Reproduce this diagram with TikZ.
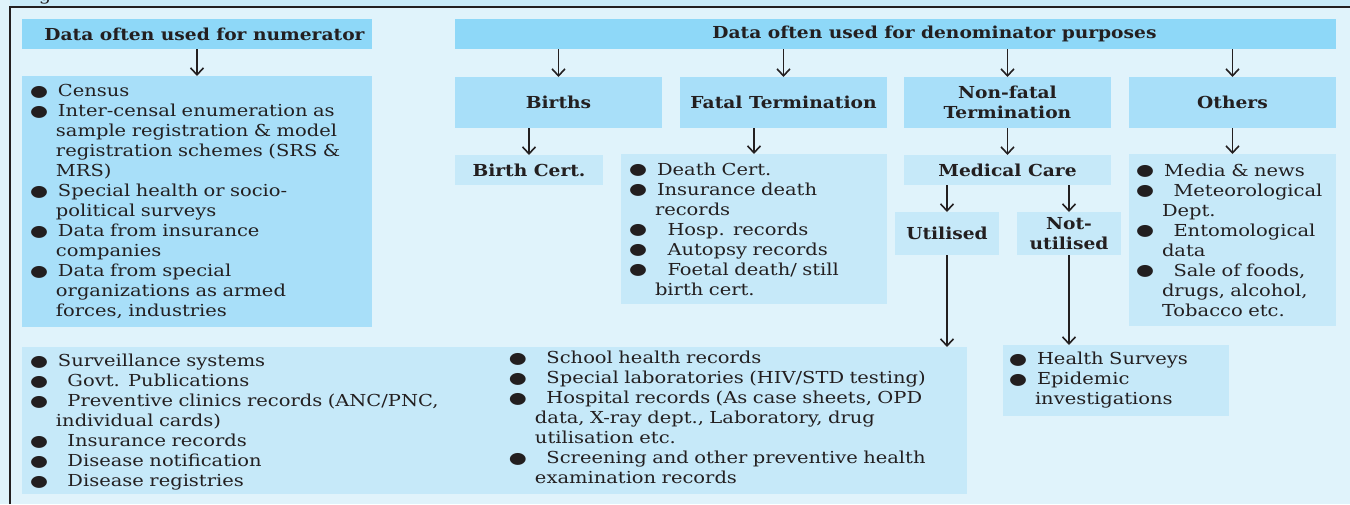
\documentclass[tikz,border=0pt]{standalone}
\usepackage{fontspec}
\usepackage{graphicx}
\setmainfont{DejaVu Serif}[FakeStretch=1.18]
\newfontfamily\hdrf{DejaVu Serif}[FakeStretch=1.13]
\newfontfamily\symfont{DejaVu Sans}
\usetikzlibrary{arrows.meta}

\definecolor{inkc}{HTML}{231F20}
\definecolor{pagebg}{HTML}{E0F3FB}
\definecolor{stripc}{HTML}{C8EAF8}
\definecolor{hdrc}{HTML}{8ED8F8}
\definecolor{midc}{HTML}{A8DFF9}
\definecolor{lightc}{HTML}{C6E9F9}

\setlength\parindent{0pt}
% list bullet and line starts
\newcommand\bul{\raisebox{0.05ex}{\scalebox{1.25}[0.95]{\symfont ●}}}
\newcommand\itm[1][0pt]{\makebox[28pt][l]{\bul}\hspace*{#1}}
\newcommand\cnt[1][0pt]{\hspace*{26pt}\hspace*{#1}}

\tikzset{
  box/.style={inner sep=0pt, outer sep=0pt, text=inkc},
  hdrbox/.style={box, fill=hdrc, font=\hdrf\bfseries\fontsize{16.5}{20}\selectfont, align=center},
  midbox/.style={box, fill=midc, font=\hdrf\bfseries\fontsize{16.5}{20}\selectfont, align=center},
  lightbox/.style={box, fill=lightc, font=\hdrf\bfseries\fontsize{16.5}{20}\selectfont, align=center},
  listbox/.style={box, font=\fontsize{16.5}{20}\selectfont, align=left},
  arr/.style={draw=inkc, line width=1.6pt, -{Straight Barb[length=7pt,width=13pt,line width=1.6pt]}},
}

\begin{document}
\begin{tikzpicture}[x=1pt,y=-1pt]
\useasboundingbox (0,0) rectangle (1350,504);
% page background, caption strip and frame
\fill[pagebg] (0,0) rectangle (1350,504);
\fill[stripc] (10,0) rectangle (1350,7);
\node[anchor=base, text=inkc, font=\fontsize{16.5}{20}\selectfont, inner sep=0pt] (capg) at (45,0.5) {g};
\draw[inkc, line width=2pt] (10,504) -- (10,7) -- (1350,7);

% numerator branch
\node[hdrbox, minimum width=350pt, minimum height=30pt] (numh) at (197,34)
  {\hspace*{15pt}Data often used for numerator};
\node[listbox, fill=midc, minimum width=350pt, minimum height=251pt, text width=334pt] (numl) at (197,201.5)
  {\itm Census\\
   \itm Inter-censal enumeration as\\
   \cnt sample registration \& model\\
   \cnt registration schemes (SRS \&\\
   \cnt MRS)\\
   \itm Special health or socio-\\
   \cnt political surveys\\
   \itm Data from insurance\\
   \cnt companies\\
   \itm Data from special\\
   \cnt organizations as armed\\
   \cnt forces, industries};

% denominator branch
\node[hdrbox, minimum width=881pt, minimum height=30pt] (denh) at (895.5,34)
  {\hspace*{78pt}Data often used for denominator purposes};
\node[midbox, minimum width=207pt, minimum height=51pt] (births) at (558.5,102.5) {Births};
\node[midbox, minimum width=207pt, minimum height=51pt] (fatal) at (783.5,102.5) {Fatal Termination};
\node[midbox, minimum width=207pt, minimum height=51pt] (nonfatal) at (1007.5,102.5) {Non-fatal\\Termination};
\node[midbox, minimum width=207pt, minimum height=51pt] (others) at (1232.5,102.5) {Others};

\node[lightbox, minimum width=148pt, minimum height=30pt] (bcert) at (529,170) {Birth Cert.};
\node[listbox, fill=lightc, minimum width=266pt, minimum height=150pt, text width=250pt] (fatl) at (754,229)
  {\itm Death Cert.\\
   \itm Insurance death\\
   \cnt records\\
   \itm[5pt] Hosp. records\\
   \itm[5pt] Autopsy records\\
   \itm[5pt] Foetal death/ still\\
   \cnt birth cert.};
\node[lightbox, minimum width=207pt, minimum height=30pt] (medcare) at (1007.5,170) {Medical Care};
\node[lightbox, minimum width=104pt, minimum height=43pt] (util) at (947,233.5) {Utilised};
\node[lightbox, minimum width=104pt, minimum height=43pt] (notutil) at (1069,233.5) {Not-\\utilised};
\node[listbox, fill=lightc, minimum width=207pt, minimum height=172pt, text width=193pt] (othl) at (1232.5,240)
  {\itm Media \& news\\
   \itm[4pt] Meteorological\\
   \cnt Dept.\\
   \itm[4pt] Entomological\\
   \cnt data\\
   \itm[4pt] Sale of foods,\\
   \cnt drugs, alcohol,\\
   \cnt Tobacco etc.};

% sources reached through medical care
\node[listbox, fill=lightc, minimum width=945pt, minimum height=147pt, text width=929pt] (bottom) at (494.5,420.5)
  {\parbox[t]{479pt}{%
   \itm Surveillance systems\\
   \itm[4pt] Govt. Publications\\
   \itm[4pt] Preventive clinics records (ANC/PNC,\\
   \cnt individual cards)\\
   \itm[4pt] Insurance records\\
   \itm[4pt] Disease notification\\
   \itm[4pt] Disease registries}%
   \raisebox{3pt}{\parbox[t]{450pt}{%
   \itm[4pt] School health records\\
   \itm[4pt] Special laboratories (HIV/STD testing)\\
   \itm[4pt] Hospital records (As case sheets, OPD\\
   \cnt data, X-ray dept., Laboratory, drug\\
   \cnt utilisation etc.\\
   \itm[4pt] Screening and other preventive health\\
   \cnt examination records}}};
\node[listbox, fill=lightc, minimum width=226pt, minimum height=71pt, text width=214pt] (hs) at (1116,380.5)
  {\itm Health Surveys\\
   \itm Epidemic\\
   \cnt investigations};

% connectors
\draw[arr] (numh) -- (numl);
\foreach \n in {births,fatal,nonfatal,others}
  \draw[arr] (\n.north |- denh.south) -- (\n.north);
\draw[arr] (bcert.north |- births.south) -- (bcert.north);
\draw[arr] (fatl.north |- fatal.south) -- (fatl.north);
\draw[arr] (nonfatal) -- (medcare);
\draw[arr] (others) -- (othl);
\draw[arr] (util.north |- medcare.south) -- (util.north);
\draw[arr] (notutil.north |- medcare.south) -- (notutil.north);
\draw[arr] (util.south) -- (util.south |- bottom.north);
\draw[arr] (notutil.south) -- (notutil.south |- hs.north);
\end{tikzpicture}
\end{document}
